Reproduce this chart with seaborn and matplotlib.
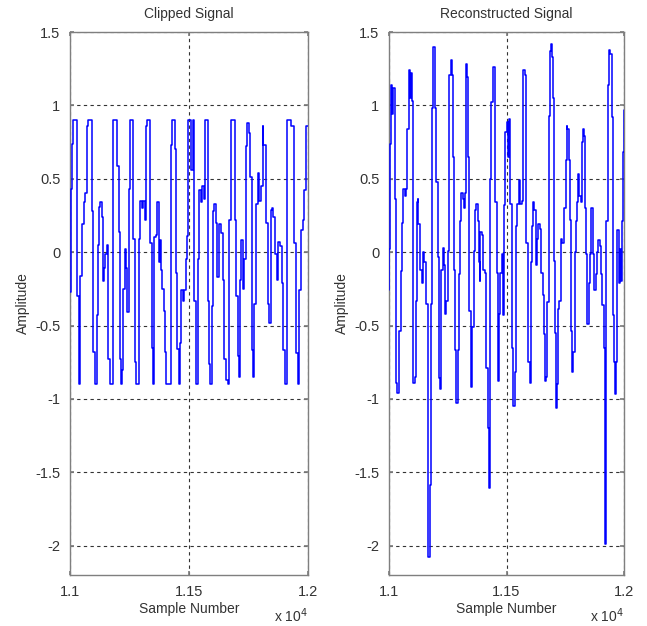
import matplotlib
matplotlib.use("Agg")
import matplotlib.pyplot as plt
import seaborn as sns
import pandas as pd

# ---- data ----
clip_x = [11000, 11003, 11007, 11012, 11029, 11036, 11044, 11050, 11057, 11064,
          11072, 11076, 11092, 11097, 11103, 11112, 11116, 11121, 11127, 11133,
          11138, 11143, 11149, 11155, 11160, 11166, 11182, 11198, 11204, 11209,
          11214, 11220, 11224, 11229, 11235, 11240, 11246, 11251, 11266, 11273,
          11279, 11288, 11295, 11302, 11308, 11316, 11321, 11325, 11337, 11343,
          11347, 11354, 11361, 11367, 11372, 11377, 11382, 11387, 11393, 11400,
          11405, 11423, 11429, 11441, 11446, 11451, 11456, 11464, 11468, 11474,
          11480, 11486, 11492, 11497, 11508, 11515, 11519, 11529, 11536, 11543,
          11550, 11556, 11562, 11567, 11581, 11585, 11589, 11595, 11599, 11606,
          11613, 11617, 11627, 11634, 11641, 11648, 11655, 11662, 11669, 11676,
          11680, 11693, 11697, 11704, 11711, 11715, 11718, 11725, 11732, 11739,
          11743, 11750, 11757, 11763, 11768, 11774, 11781, 11788, 11795, 11802,
          11809, 11813, 11823, 11830, 11837, 11844, 11847, 11855, 11861, 11868,
          11875, 11882, 11889, 11896, 11903, 11911, 11928, 11942, 11949, 11956,
          11963, 11970, 11977, 11984, 11991, 11995, 12000]
clip_y = [-0.27, 0.43, 0.74, 0.90, -0.30, -0.90, -0.16, 0.19, 0.34, 0.40,
          0.86, 0.90, 0.28, -0.68, -0.90, -0.43, 0.05, 0.31, 0.34, 0.24,
          -0.20, -0.11, -0.01, 0.05, -0.73, -0.90, 0.90, 0.59, 0.14, -0.73,
          -0.90, -0.80, -0.25, 0.02, -0.11, -0.41, 0.43, 0.90, 0.09, -0.75,
          -0.90, 0.09, 0.35, 0.30, 0.35, 0.22, 0.86, 0.90, 0.06, -0.65,
          -0.90, 0.10, 0.12, 0.34, -0.07, 0.08, -0.12, -0.25, -0.40, -0.68,
          -0.90, 0.73, 0.90, 0.70, -0.14, -0.66, -0.90, -0.62, -0.26, -0.33,
          -0.26, -0.05, 0.11, 0.90, 0.56, 0.90, -0.33, -0.90, -0.05, 0.42,
          0.34, 0.45, 0.36, 0.90, -0.33, -0.76, -0.90, -0.37, 0.28, 0.33,
          0.20, -0.17, 0.19, 0.13, -0.19, -0.73, -0.87, -0.90, 0.22, 0.90,
          0.90, 0.22, -0.30, -0.71, -0.85, -0.19, 0.08, -0.25, -0.05, 0.72,
          0.88, 0.81, 0.51, -0.67, -0.85, -0.35, 0.33, 0.54, 0.35, 0.45,
          0.86, 0.73, 0.20, -0.35, -0.48, 0.29, 0.30, 0.24, -0.01, -0.19,
          0.07, 0.04, -0.21, -0.67, -0.90, 0.90, 0.86, 0.06, -0.69, -0.90,
          -0.26, 0.15, 0.22, 0.42, 0.86, 0.86, 0.86]

rec_x = [11000, 11001, 11003, 11009, 11014, 11019, 11024, 11027, 11030, 11036,
         11043, 11050, 11057, 11061, 11067, 11073, 11076, 11083, 11090, 11093,
         11097, 11100, 11104, 11110, 11114, 11118, 11123, 11125, 11132, 11140,
         11144, 11151, 11157, 11164, 11168, 11175, 11179, 11182, 11189, 11194,
         11197, 11199, 11207, 11211, 11218, 11222, 11228, 11232, 11239, 11242,
         11249, 11256, 11263, 11268, 11272, 11278, 11282, 11285, 11293, 11299,
         11303, 11308, 11313, 11318, 11322, 11326, 11332, 11335, 11338, 11342,
         11349, 11355, 11360, 11367, 11372, 11377, 11382, 11386, 11389, 11396,
         11400, 11407, 11414, 11420, 11424, 11429, 11431, 11434, 11441, 11449,
         11453, 11460, 11464, 11470, 11474, 11479, 11486, 11488, 11495, 11500,
         11505, 11511, 11517, 11524, 11528, 11535, 11541, 11545, 11552, 11559,
         11567, 11571, 11577, 11581, 11585, 11592, 11599, 11605, 11609, 11614,
         11619, 11624, 11631, 11635, 11642, 11648, 11655, 11659, 11663, 11670,
         11673, 11680, 11685, 11690, 11695, 11699, 11702, 11706, 11712, 11716,
         11719, 11723, 11730, 11733, 11737, 11745, 11752, 11756, 11759, 11766,
         11770, 11773, 11777, 11783, 11790, 11794, 11799, 11804, 11810, 11816,
         11820, 11826, 11830, 11834, 11837, 11841, 11844, 11849, 11851, 11856,
         11861, 11866, 11870, 11873, 11880, 11887, 11891, 11897, 11901, 11905,
         11913, 11919, 11924, 11927, 11931, 11937, 11941, 11947, 11952, 11958,
         11962, 11968, 11972, 11977, 11982, 11987, 11991, 11995, 11999, 12000]
rec_y = [-0.26, 0.02, 0.74, 1.14, 0.94, 1.12, 0.94, 0.36, -0.89, -0.96,
         -0.54, -0.13, 0.20, 0.43, 0.38, 0.43, 0.84, 1.24, 1.05, 1.22,
         1.03, -0.78, -0.89, -0.85, -0.33, 0.34, 0.36, 0.19, -0.12, -0.21,
         0.00, -0.07, -0.35, -1.59, -2.08, -1.59, -0.35, 0.98, 1.40, 1.16,
         0.98, 0.48, -0.03, -0.86, -0.93, -0.12, 0.03, -0.09, -0.42, -0.33,
         0.01, 1.21, 1.31, 1.21, 0.65, -0.12, -0.67, -1.03, -0.67, -0.15,
         0.21, 0.40, 0.36, 0.30, 0.40, 1.28, 1.19, 0.90, 0.65, -0.40,
         -0.92, -0.51, 0.01, 0.29, 0.33, 0.21, -0.07, -0.20, 0.14, 0.12,
         -0.12, -0.14, -0.79, -1.20, -1.61, -1.20, 0.50, 1.02, 1.26, 1.06,
         0.34, -0.14, -0.88, -0.42, -0.14, -0.01, -0.43, 0.32, 0.82, 0.89,
         0.65, 0.91, 0.33, -0.65, -1.05, -0.82, 0.18, 0.33, 0.49, 0.33,
         0.35, 1.24, 1.21, 0.84, 0.06, -0.75, -0.89, -0.07, 0.18, 0.34,
         0.29, -0.09, 0.09, 0.19, 0.16, -0.14, -0.29, -0.56, -0.88, -0.85,
         -0.34, 0.93, 1.37, 1.42, 1.33, 1.05, -0.06, -0.55, -1.06, -0.90,
         -0.39, -0.33, -0.28, 0.09, 0.06, 0.30, 0.63, 0.86, 0.84, 0.63,
         0.22, -0.54, -0.82, -0.68, 0.00, 0.21, 0.34, 0.53, 0.38, 0.34,
         0.75, 0.84, 0.79, 0.30, -0.01, -0.33, -0.49, -0.35, -0.21, -0.01,
         0.30, 0.28, -0.01, -0.26, -0.15, 0.00, 0.08, 0.04, -0.15, -0.36,
         -0.65, -1.99, 0.21, 0.21, 1.14, 1.38, 1.35, 0.92, -0.43, -0.75,
         -0.97, -0.75, 0.15, -0.21, 0.02, -0.20, 0.21, 0.68, 0.90, 0.97]

titles = ["Clipped Signal", "Reconstructed Signal"]
x_ticks = [11000, 11500, 12000]
x_tick_labels = ["1.1", "1.15", "1.2"]
y_ticks = [-2, -1.5, -1, -0.5, 0, 0.5, 1, 1.5]
y_tick_labels = ["-2", "-1.5", "-1", "-0.5", "0", "0.5", "1", "1.5"]

sns.set_theme(style="white")
plt.rcParams["font.family"] = ["Liberation Sans", "DejaVu Sans"]

fig = plt.figure(figsize=(6.47, 6.26), dpi=100)
W, H = 647, 626
axes = [fig.add_axes([70 / W, (H - 575) / H, 238 / W, 543 / H]),
        fig.add_axes([389 / W, (H - 575) / H, 235 / W, 543 / H])]

txt_col = "#333333"
frame_col = "#7f7f7f"
for ax, (xs, ys), title in zip(axes, [(clip_x, clip_y), (rec_x, rec_y)], titles):
    df = pd.DataFrame({"Sample": xs, "Amplitude": ys})
    sns.lineplot(data=df, x="Sample", y="Amplitude", ax=ax, color="#0000ff",
                 linewidth=1.1, drawstyle="steps-post", sort=False,
                 estimator=None, zorder=3)
    ax.set_xlim(11000, 12000)
    ax.set_ylim(-2.2, 1.5)
    ax.set_xticks(x_ticks)
    ax.set_xticklabels(x_tick_labels)
    ax.set_yticks(y_ticks)
    ax.set_yticklabels(y_tick_labels)
    ax.grid(True, color="#333333", linestyle=(0, (3, 3)), linewidth=0.8)
    ax.tick_params(direction="in", length=3, colors=frame_col,
                   labelcolor=txt_col, labelsize=10.5, top=True, right=True,
                   bottom=True, left=True, pad=7)
    for s in ax.spines.values():
        s.set_color(frame_col)
        s.set_linewidth(1.0)
    ax.set_title(title, fontsize=10, color=txt_col, pad=10)
    ax.set_xlabel("Sample Number", fontsize=10, color=txt_col, labelpad=2)
    ax.set_ylabel("Amplitude", fontsize=10, color=txt_col, labelpad=4)
    ax.text(1.0, -0.075, r"x 10$^4$", transform=ax.transAxes, ha="right",
            va="center", fontsize=10, color=txt_col)

fig.savefig("out.png", dpi=100, facecolor="white")
